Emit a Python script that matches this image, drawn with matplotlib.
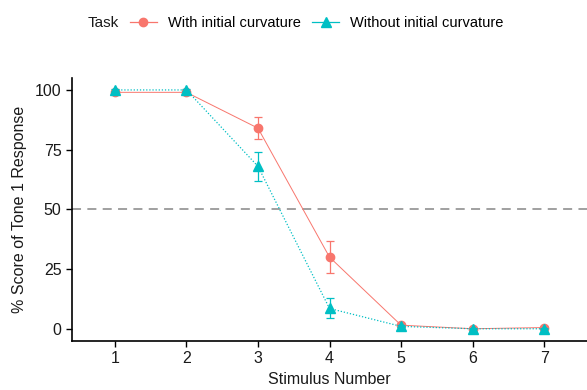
import numpy as np
import matplotlib.pyplot as plt
from matplotlib.lines import Line2D

plt.rcParams["font.family"] = ["Liberation Sans", "DejaVu Sans"]

# data
stimulus = [1, 2, 3, 4, 5, 6, 7]
with_curv = [99, 99, 84, 30, 1.5, 0, 0.5]
with_err = [0.5, 0.5, 4.5, 6.8, 0.5, 0.2, 0.5]
without_curv = [100, 100, 68, 8.5, 1, 0, 0]
without_err = [0.3, 0.3, 6, 4.2, 0.4, 0.2, 0.3]

red = "#F8766D"
cyan = "#00BFC4"

fig = plt.figure(figsize=(5.87, 3.9), dpi=100)
ax = fig.add_axes([72 / 587, 1 - 340.7 / 390, 1 - 72 / 587, (340.7 - 78) / 390])

ax.axhline(50, color="#999999", linestyle=(0, (5, 3.5)), linewidth=1.3, zorder=1)

ax.errorbar(stimulus, with_curv, yerr=with_err, color=red, marker="o", markersize=6,
            linestyle="-", linewidth=0.7, elinewidth=0.9, capsize=3, capthick=0.9, zorder=3)
ax.errorbar(stimulus, without_curv, yerr=without_err, color=cyan, marker="^", markersize=7,
            linestyle=(0, (1, 1.5)), linewidth=0.9, elinewidth=0.9, capsize=3, capthick=0.9, zorder=4)

ax.set_xlim(0.4, 7.6)
ax.set_ylim(-5, 105)
ax.set_xticks(stimulus)
ax.set_yticks([0, 25, 50, 75, 100])
ax.tick_params(labelsize=11.5, length=4, width=1, colors="black", labelcolor="#1a1a1a")
for s in ["top", "right"]:
    ax.spines[s].set_visible(False)
for s in ["left", "bottom"]:
    ax.spines[s].set_linewidth(1.2)

ax.set_xlabel("Stimulus Number", fontsize=11.5, color="#1a1a1a", labelpad=4)
ax.set_ylabel("% Score of Tone 1 Response", fontsize=11.5, color="#1a1a1a", labelpad=6)

# legend at top, title on the left
fig.text(88 / 587, 1 - 23 / 390, "Task", fontsize=11, color="#1a1a1a", va="center", ha="left")
handles = [
    Line2D([], [], color=red, marker="o", markersize=6, linewidth=0.9),
    Line2D([], [], color=cyan, marker="^", markersize=7, linewidth=0.9),
]
fig.legend(handles, ["With initial curvature", "Without initial curvature"], ncol=2,
           loc="center left", bbox_to_anchor=(130 / 587, 1 - 23 / 390), frameon=False,
           fontsize=10.5, handlelength=1.85, handletextpad=0.75, columnspacing=0.8,
           borderaxespad=0, borderpad=0)

fig.savefig("out.png", dpi=100)
